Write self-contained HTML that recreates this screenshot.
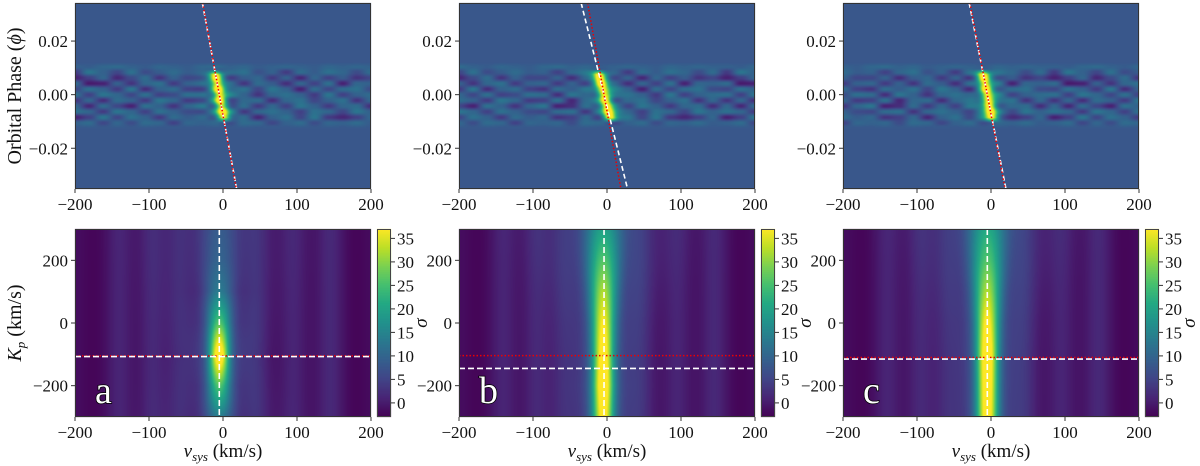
<!DOCTYPE html>
<html><head><meta charset="utf-8">
<style>
html,body{margin:0;padding:0;background:#fff;width:1200px;height:466px;overflow:hidden}
#fig{position:relative;width:1200px;height:466px}
canvas{position:absolute}
svg{position:absolute;left:0;top:0}
text{font-family:"Liberation Serif",serif}
</style></head>
<body>
<div id="fig">
<canvas id="cv" width="1200" height="466"></canvas>
<svg id="sv" width="1200" height="466"></svg>
</div>
<script>
// ---------- data ----------
const panelNames = ["a","b","c"];
const vsysTicks = [-200,-100,0,100,200];
const phaseTicks = [0.02,0.00,-0.02];
const phaseTickLabels = ["0.02","0.00","\u22120.02"];
const kpTicks = [200,0,-200];
const kpTickLabels = ["200","0","\u2212200"];
const cbarTicks = [0,5,10,15,20,25,30,35];
const whiteKp = [-107,-145,-115];
const redKp = [-105,-104,-110];
const lineV0 = [-5,-4,-5];
const kpNodes = [-300,-200,-100,0,100,200,300];
const ampA = [12,22,36,22,12,9,8];
const ampB = [33,36,34,31,27,22,17];
const ampC = [34,35,36,32,27,22,18];
const widthA = [14,11,9,11,14,18,20];
const widthB = [10,10,10,11,13,16,19];
const widthC = [10,10,10,11,13,16,19];
const stripeV = [-175,-140,-95,-60,45,95,145,180];
const stripeAmp = [-1,2.5,3,2.5,3,2.5,3,-1];
const noise = [
[0.2,0.1,0.3,0.4,0.2,0.1,0.3,0.2,0.1,0.3,0.4,0.2,0.3,0.1,0.2,0.3,0.2,0.1,0.3,0.2,0.3,0.2],
[-0.5,0.6,0.2,-0.3,0.5,-0.2,0.1,0.4,0.1,0.2,-0.4,0.3,0.5,-0.1,0.2,-0.5,0.4,0.1,0.5,0.3,-0.2,0.4],
[-0.9,-0.4,0.3,-0.8,-0.2,0.4,-0.6,0.2,-0.3,-0.3,0.2,-0.7,0.1,0.3,-0.5,0.2,-0.8,0.3,-0.4,0.1,-0.6,-0.3],
[0.4,-1.0,-0.9,0.2,-0.6,0.3,0.5,-0.5,0.2,0.3,-0.5,0.2,-0.6,0.4,0.1,-0.7,0.3,-0.4,0.5,-0.9,0.3,0.2],
[-0.3,0.5,0.2,-0.5,0.6,-0.7,0.2,0.4,-0.4,-0.6,0.4,0.1,0.5,-0.3,0.6,0.2,-0.9,0.4,-0.3,0.4,0.5,-0.2],
[0.5,-0.4,0.6,0.3,-0.3,0.5,-0.4,-0.2,0.5,0.4,-0.7,0.6,0.2,-0.6,0.3,0.5,0.2,-0.5,0.6,-0.4,0.2,0.4],
[-0.6,0.3,-0.7,0.4,0.2,-0.5,0.6,0.3,-0.5,-0.4,0.5,-0.8,0.3,0.4,-0.7,0.3,0.5,-0.3,0.2,0.5,-0.6,0.3],
[0.3,-0.8,0.4,-0.3,-0.9,0.5,0.2,-0.6,0.3,0.6,-0.9,-0.7,0.4,-0.5,0.3,-0.4,0.6,0.2,-0.5,0.3,0.4,-0.7],
[0.5,0.3,-0.5,0.6,0.3,-0.4,0.5,0.2,-0.2,-0.3,0.4,0.5,-0.6,0.3,0.5,0.2,-0.4,0.5,0.3,-0.3,0.6,0.2],
[-0.9,-0.4,0.6,-0.3,0.5,0.2,-0.5,0.4,0.1,0.3,-0.6,-0.4,0.3,-0.8,0.2,0.5,-0.3,0.6,-0.5,-0.8,-0.4,0.3],
[0.2,0.4,-0.3,0.3,-0.2,0.4,0.3,-0.4,0.3,0.2,0.3,-0.2,0.4,0.3,-0.3,0.2,0.4,-0.2,0.3,0.2,0.4,0.1],
[0.1,0.2,0.1,0.2,0.1,0.2,0.1,0.2,0.1,0.1,0.2,0.1,0.2,0.1,0.2,0.1,0.2,0.1,0.2,0.1,0.2,0.1]
];
const noiseShift = [0,3,7];

// ---------- layout ----------
const panelX = [75,459,843], panelW = 296;
const topY0 = 3, topY1 = 189, botY0 = 229, botY1 = 417;
const cbarX = [377,761,1145], cbarW = 14;
const phMin=-0.0352, phMax=0.0342, kpMin=-300, kpMax=300, cMin=-3, cMax=37;

const VIR=["#440154","#482475","#414487","#355f8d","#2a788e","#21918c","#22a884","#44bf70","#7ad151","#bddf26","#fde725"].map(h=>[parseInt(h.substr(1,2),16),parseInt(h.substr(3,2),16),parseInt(h.substr(5,2),16)]);
function vir(t){t=Math.max(0,Math.min(1,t))*10;const i=Math.min(9,Math.floor(t)),f=t-i;return VIR[i].map((c,k)=>Math.round(c+(VIR[i+1][k]-c)*f));}
function interp(xs,ys,x){if(x<=xs[0])return ys[0];for(let i=1;i<xs.length;i++)if(x<=xs[i]){const f=(x-xs[i-1])/(xs[i]-xs[i-1]);return ys[i-1]+(ys[i]-ys[i-1])*f;}return ys[ys.length-1];}
const xv=(p,v)=>panelX[p]+(v+200)/400*panelW;
const yPh=ph=>topY0+(phMax-ph)/(phMax-phMin)*(topY1-topY0);
const yKp=kp=>botY0+(kpMax-kp)/(kpMax-kpMin)*(botY1-botY0);
const yC=c=>botY0+(cMax-c)/(cMax-cMin)*(botY1-botY0);
const traceV=(kp,v0,ph)=>v0+kp*Math.sin(2*Math.PI*ph);
const sm=f=>f*f*(3-2*f);

const ctx=document.getElementById('cv').getContext('2d');
const amps=[ampA,ampB,ampC], widths=[widthA,widthB,widthC];
for(let p=0;p<3;p++){
  const W=panelW,H=topY1-topY0;const img=ctx.createImageData(W,H);
  for(let j=0;j<H;j++){const ph=phMax-(j+0.5)/H*(phMax-phMin);
    const rf=(0.0115-ph)/0.0021-0.5;
    let band=1; if(ph>0.0105) band=Math.max(0,1-(ph-0.0105)/0.0015); if(ph<-0.011) band=Math.max(0,1-(-0.011-ph)/0.002);
    for(let i=0;i<W;i++){const v=-200+(i+0.5)/W*400;let t=0.27;
      if(band>0){const r=Math.max(0,Math.min(11,rf));const r0=Math.floor(r),r1=Math.min(11,r0+1),fr=sm(r-r0);
        const cf=(v+200)/400*21+noiseShift[p];const c0=Math.floor(cf)%22,c1=(c0+1)%22,fc=sm(cf-Math.floor(cf));
        const n=(noise[r0][c0]*(1-fc)+noise[r0][c1]*fc)*(1-fr)+(noise[r1][c0]*(1-fc)+noise[r1][c1]*fc)*fr;
        t+=n*0.2*band;
        if(ph<0.0095&&ph>-0.0105){const vc=traceV(whiteKp[p],lineV0[p],ph);const e=Math.min(1,(0.0095-ph)/0.002,(ph+0.0105)/0.002);
          t+=e*(0.7*Math.exp(-((v-vc)**2)/(2*6*6))+0.12*Math.exp(-((v-vc)**2)/(2*14*14)));}
      }
      const c=vir(t),k=(j*W+i)*4;img.data[k]=c[0];img.data[k+1]=c[1];img.data[k+2]=c[2];img.data[k+3]=255;}}
  ctx.putImageData(img,panelX[p],topY0);
  const H2=botY1-botY0;const img2=ctx.createImageData(W,H2);
  for(let j=0;j<H2;j++){const kp=kpMax-(j+0.5)/H2*(kpMax-kpMin);
    const A=interp(kpNodes,amps[p],kp),w=interp(kpNodes,widths[p],kp);
    for(let i=0;i<W;i++){const v=-200+(i+0.5)/W*400;let val=-1.5;
      for(let s=0;s<stripeV.length;s++)val+=stripeAmp[s]*Math.exp(-((v-stripeV[s])**2)/(2*12*12));
      val+=A*Math.exp(-((v+5)**2)/(2*w*w))+A*0.25*Math.exp(-((v+5)**2)/(2*(w*3)**2));
      const c=vir((val-cMin)/(cMax-cMin)),k=(j*W+i)*4;img2.data[k]=c[0];img2.data[k+1]=c[1];img2.data[k+2]=c[2];img2.data[k+3]=255;}}
  ctx.putImageData(img2,panelX[p],botY0);
  for(let y=botY0;y<botY1;y++){const c=vir((cMax-(y-botY0+0.5)/(botY1-botY0)*(cMax-cMin)-cMin)/(cMax-cMin));ctx.fillStyle=`rgb(${c})`;ctx.fillRect(cbarX[p],y,cbarW,1);}
}

const NS="http://www.w3.org/2000/svg",sv=document.getElementById('sv');
function el(tag,attrs,parent){const e=document.createElementNS(NS,tag);for(const k in attrs)e.setAttribute(k,attrs[k]);(parent||sv).appendChild(e);return e;}
for(let p=0;p<3;p++){
  const g=el('g',{});
  
  
  const wl=el('line',{x1:xv(p,traceV(whiteKp[p],lineV0[p],phMax)),y1:topY0,x2:xv(p,traceV(whiteKp[p],lineV0[p],phMin)),y2:topY1,stroke:'#fff','stroke-width':1.6,'stroke-dasharray':'5,3'},g);
  
  
  const rl=el('line',{x1:xv(p,traceV(redKp[p],lineV0[p],phMax)),y1:topY0,x2:xv(p,traceV(redKp[p],lineV0[p],phMin)),y2:topY1,stroke:'#e00','stroke-width':1.5,'stroke-dasharray':'1.5,2'},g);
  
  
  const rh=el('line',{x1:panelX[p],x2:panelX[p]+panelW,y1:yKp(redKp[p]),y2:yKp(redKp[p]),stroke:'#e00','stroke-width':1.5,'stroke-dasharray':'1.5,2'},g);
  
  
  const wh=el('line',{x1:panelX[p],x2:panelX[p]+panelW,y1:yKp(whiteKp[p]),y2:yKp(whiteKp[p]),stroke:'#fff','stroke-width':1.6,'stroke-dasharray':'6,3'},g);
  
  
  const wv=el('line',{x1:xv(p,lineV0[p]),x2:xv(p,lineV0[p]),y1:botY0,y2:botY1,stroke:'#fff','stroke-width':1.6,'stroke-dasharray':'6,3'},g);
  
  
  for(const [y0,y1] of [[topY0,topY1],[botY0,botY1]]){const r=el('rect',{x:panelX[p]+0.5,y:y0+0.5,width:panelW-1,height:y1-y0-1,fill:'none',stroke:'#333','stroke-width':1},g);
    }
  const cb=el('rect',{x:cbarX[p]+0.5,y:botY0+0.5,width:cbarW-1,height:botY1-botY0-1,fill:'none',stroke:'#444','stroke-width':1},g);
  
  for(const v of vsysTicks){for(const yb of [topY1,botY1]){el('line',{x1:xv(p,v),x2:xv(p,v),y1:yb,y2:yb+4,stroke:'#333'},g);
    const t=el('text',{x:xv(p,v),y:yb+21,'text-anchor':'middle','font-size':17,fill:'#111'},g);t.textContent=v<0?'\u2212'+(-v):String(v);
    }}
  phaseTicks.forEach((ph,i)=>{el('line',{x1:panelX[p]-4,x2:panelX[p],y1:yPh(ph),y2:yPh(ph),stroke:'#333'},g);
    const t=el('text',{x:panelX[p]-7,y:yPh(ph)+6,'text-anchor':'end','font-size':17,fill:'#111'},g);t.textContent=phaseTickLabels[i];
    });
  kpTicks.forEach((kp,i)=>{el('line',{x1:panelX[p]-4,x2:panelX[p],y1:yKp(kp),y2:yKp(kp),stroke:'#333'},g);
    const t=el('text',{x:panelX[p]-7,y:yKp(kp)+6,'text-anchor':'end','font-size':17,fill:'#111'},g);t.textContent=kpTickLabels[i];
    });
  cbarTicks.forEach(c=>{el('line',{x1:cbarX[p]+cbarW,x2:cbarX[p]+cbarW+4,y1:yC(c),y2:yC(c),stroke:'#333'},g);
    const t=el('text',{x:cbarX[p]+cbarW+6,y:yC(c)+6,'font-size':17,fill:'#111'},g);t.textContent=String(c);
    });
  const sg=el('text',{x:0,y:0,'font-size':19,'font-style':'italic',fill:'#111',transform:`translate(${cbarX[p]+50},${(botY0+botY1)/2}) rotate(-90)`,'text-anchor':'middle'},g);
  sg.textContent='\u03c3';
  const xl=el('text',{x:panelX[p]+panelW/2,y:457,'text-anchor':'middle','font-size':19,fill:'#111'},g);
  xl.innerHTML='<tspan font-style="italic">v</tspan><tspan font-style="italic" font-size="13" dy="4">sys</tspan><tspan dy="-4"> (km/s)</tspan>';
  
  const pl=el('text',{x:panelX[p]+20,y:botY1-14,'font-size':38,fill:'#ffffff',stroke:'#000','stroke-width':1.5,'paint-order':'stroke'},g);
  pl.textContent=panelNames[p];
}
const yl1=el('text',{x:0,y:0,'font-size':20,fill:'#111','text-anchor':'middle',transform:`translate(21,${(topY0+topY1)/2}) rotate(-90)`});
yl1.innerHTML='Orbital Phase (<tspan font-style="italic">\u03d5</tspan>)';


const yl2=el('text',{x:0,y:0,'font-size':20,fill:'#111','text-anchor':'middle',transform:`translate(21,${(botY0+botY1)/2}) rotate(-90)`});
yl2.innerHTML='<tspan font-style="italic">K</tspan><tspan font-style="italic" font-size="13" dy="4">p</tspan><tspan dy="-4"> (km/s)</tspan>';


</script>
</body></html>
